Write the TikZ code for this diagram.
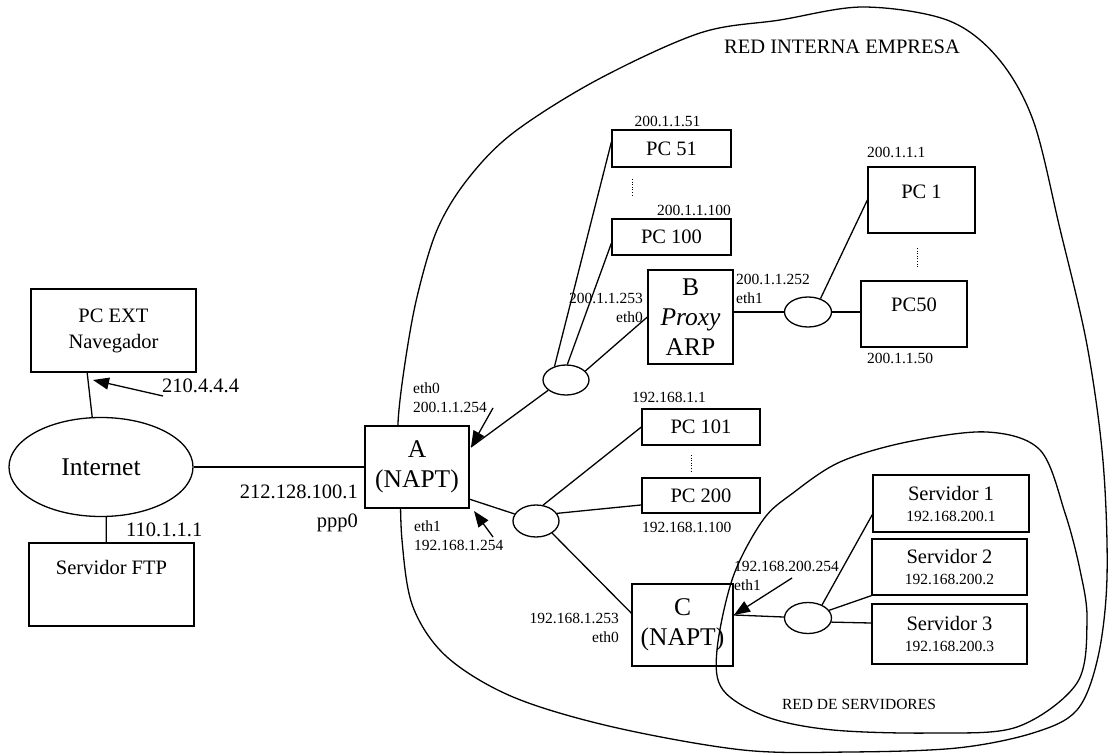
\documentclass[tikz,border=0pt]{standalone}
\usepackage{fontspec}
\setmainfont{Liberation Serif}
\usepackage{tikz}
\usetikzlibrary{shapes.geometric,arrows.meta}
\newcommand{\grande}{\fontsize{25.5}{30}\selectfont}
\newcommand{\medio}{\fontsize{20.5}{26}\selectfont}
\newcommand{\chico}{\fontsize{15.5}{19}\selectfont}
\tikzstyle{caja} = [draw, line width=1.3pt, rectangle, inner sep=0pt, align=center]
\tikzstyle{hub} = [draw, line width=1.3pt, ellipse, inner sep=0pt]
\tikzstyle{enlace} = [line width=1.3pt]
\tikzstyle{flecha} = [line width=1.3pt, -{Triangle[length=16pt,width=12pt]}]
\tikzstyle{zona} = [line width=1.3pt]
\tikzstyle{puntos} = [line width=0.9pt, dash pattern=on 1pt off 1.6pt]
\tikzstyle{etiq} = [inner sep=0pt, font=\chico]
\begin{document}
\begin{tikzpicture}[x=1pt, y=-1pt]
    \useasboundingbox (0,0) rectangle (1109,754);
    % zonas
    \draw[zona] plot[smooth cycle, tension=0.55] coordinates {(400,470) (398,423) (405,363) (417,297) (437,230) (467,180) (513,133) (597,80) (700,33) (780,20) (863,7) (947,20) (997,57) (1033,120) (1060,229) (1087,345) (1103,461) (1107,577) (1098,657) (1077,710) (1033,733) (957,748) (850,752) (743,750) (613,727) (513,697) (447,657) (413,607) (402,540)};
    \draw[zona] plot[smooth cycle, tension=0.55] coordinates {(987,432) (1040,450) (1065,513) (1080,570) (1087,620) (1077,683) (1017,727) (933,733) (833,730) (767,717) (723,690) (717,650) (733,577) (763,520) (793,493) (840,462) (907,442)};
    \draw (842,47) node[font=\medio] (rie) {RED INTERNA EMPRESA};
    \draw (859,704) node[font=\chico] (rds) {RED DE SERVIDORES};
    % exterior
    \draw (113.5,330.5) node[caja, minimum width=165pt, minimum height=83pt, font=\medio] (pcext) {PC EXT\\Navegador};
    \draw (101,467) node[hub, minimum width=184pt, minimum height=99pt, font=\grande] (inet) {Internet};
    \draw (111.5,584.5) node[caja, minimum width=165pt, minimum height=83pt] (ftp) {};
    \draw (111.5,567) node[font=\medio] (ftptxt) {Servidor FTP};
    % routers
    \draw (417,467) node[caja, fill=white, minimum width=104pt, minimum height=82pt, font=\grande] (a) {A\\(NAPT)};
    \draw (690.5,317) node[caja, minimum width=85pt, minimum height=94pt, font=\grande] (b) {B\\\textit{Proxy}\\ARP};
    \draw (682.5,625) node[caja, minimum width=101pt, minimum height=82pt, font=\grande] (c) {C\\(NAPT)};
    % hubs
    \draw (566,380) node[hub, minimum width=46pt, minimum height=30pt] (e1) {};
    \draw (808,312) node[hub, minimum width=47pt, minimum height=30pt] (e2) {};
    \draw (536,521) node[hub, minimum width=46pt, minimum height=32pt] (e3) {};
    \draw (808,618) node[hub, minimum width=47pt, minimum height=31pt] (e4) {};
    % equipos
    \draw (671.5,148.5) node[caja, minimum width=119pt, minimum height=37pt, font=\medio] (pc51) {PC 51};
    \draw (671.5,237) node[caja, minimum width=119pt, minimum height=36pt, font=\medio] (pc100) {PC 100};
    \draw (921.5,200) node[caja, minimum width=107pt, minimum height=66pt] (pc1) {};
    \draw (921.5,192) node[font=\medio] (pc1txt) {PC 1};
    \draw (914,314) node[caja, minimum width=106pt, minimum height=66pt] (pc50) {};
    \draw (914,305) node[font=\medio] (pc50txt) {PC50};
    \draw (701,427) node[caja, minimum width=118pt, minimum height=36pt, font=\medio] (pc101) {PC 101};
    \draw (701,495.5) node[caja, minimum width=118pt, minimum height=35pt, font=\medio] (pc200) {PC 200};
    \draw (951,503.5) node[caja, minimum width=156pt, minimum height=57pt, font=\medio] (s1) {Servidor 1\\[-5pt]{\chico 192.168.200.1}};
    \draw (949.5,567) node[caja, minimum width=155pt, minimum height=56pt, font=\medio] (s2) {Servidor 2\\[-5pt]{\chico 192.168.200.2}};
    \draw (949.5,634) node[caja, minimum width=155pt, minimum height=60pt, font=\medio] (s3) {Servidor 3\\[-5pt]{\chico 192.168.200.3}};
    \draw[puntos] (632,179) -- (632,197);
    \draw[puntos] (917,248) -- (917,267);
    \draw[puntos] (691,455) -- (691,473);
    % enlaces
    \draw[enlace] (pcext.-122.6) -- (inet.100);
    \draw[enlace] (inet.-84) -- (ftp.97.5);
    \draw[enlace] (inet) -- (a);
    \coordinate (aeth0) at (471,447);
    \coordinate (aeth1) at (469,499);
    \coordinate (ceth1) at (734,615);
    \draw[enlace] (e1.-150) -- (aeth0);
    \draw[enlace] (e1.130) -- (pc51.174);
    \draw[enlace] (e1.85) -- (pc100.186);
    \draw[enlace] (e1.25) -- (b.west);
    \draw[enlace] (b.east |- e2) -- (e2);
    \draw[enlace] (e2.47) -- (pc1.west);
    \draw[enlace] (e2) -- (pc50.west |- e2);
    \draw[enlace] (aeth1) -- (e3);
    \draw[enlace] (e3.66) -- (pc101.west);
    \draw[enlace] (e3.20) -- (pc200.189);
    \draw[enlace] (e3.-37) -- (c.167);
    \draw[enlace] (ceth1) -- (e4);
    \draw[enlace] (e4.43) -- (s1.188);
    \draw[enlace] (e4.20) -- (s2.south west);
    \draw[enlace] (e4.-10) -- (s3.172);
    % direcciones
    \draw (162,386) node[etiq, anchor=west, font=\medio] (l210) {210.4.4.4};
    \draw (358,492) node[etiq, anchor=east, font=\medio] (l212) {212.128.100.1};
    \draw (358,523) node[etiq, anchor=east, font=\medio] (lppp) {ppp0};
    \draw (126,530) node[etiq, anchor=west, font=\medio] (l110) {110.1.1.1};
    \draw (413,398) node[etiq, anchor=west, align=left] (la0) {eth0\\200.1.1.254};
    \draw (414,536) node[etiq, anchor=west, align=left] (la1) {eth1\\192.168.1.254};
    \draw (667.5,121) node[etiq] (l51) {200.1.1.51};
    \draw (731,210) node[etiq, anchor=east] (l100) {200.1.1.100};
    \draw (643,308) node[etiq, anchor=east, align=right] (lb0) {200.1.1.253\\eth0};
    \draw (736,289) node[etiq, anchor=west, align=left] (lb1) {200.1.1.252\\eth1};
    \draw (867,152) node[etiq, anchor=west] (l1) {200.1.1.1};
    \draw (867,358) node[etiq, anchor=west] (l50) {200.1.1.50};
    \draw (632,397) node[etiq, anchor=west] (l101) {192.168.1.1};
    \draw (642,527) node[etiq, anchor=west] (l200) {192.168.1.100};
    \draw (619,628) node[etiq, anchor=east, align=right] (lc0) {192.168.1.253\\eth0};
    \draw (734,576) node[etiq, anchor=west, align=left] (lc1) {192.168.200.254\\eth1};
    % flechas
    \coordinate (t210) at (163,396);
    \coordinate (p210) at (93,380);
    \coordinate (ta0) at (493,408);
    \coordinate (ta1) at (493,537);
    \coordinate (pa1) at (474,511);
    \coordinate (tc1) at (792,578);
    \draw[flecha] (t210) -- (p210);
    \draw[flecha] (ta0) -- (aeth0);
    \draw[flecha] (ta1) -- (pa1);
    \draw[flecha] (tc1) -- (ceth1);
\end{tikzpicture}
\end{document}
